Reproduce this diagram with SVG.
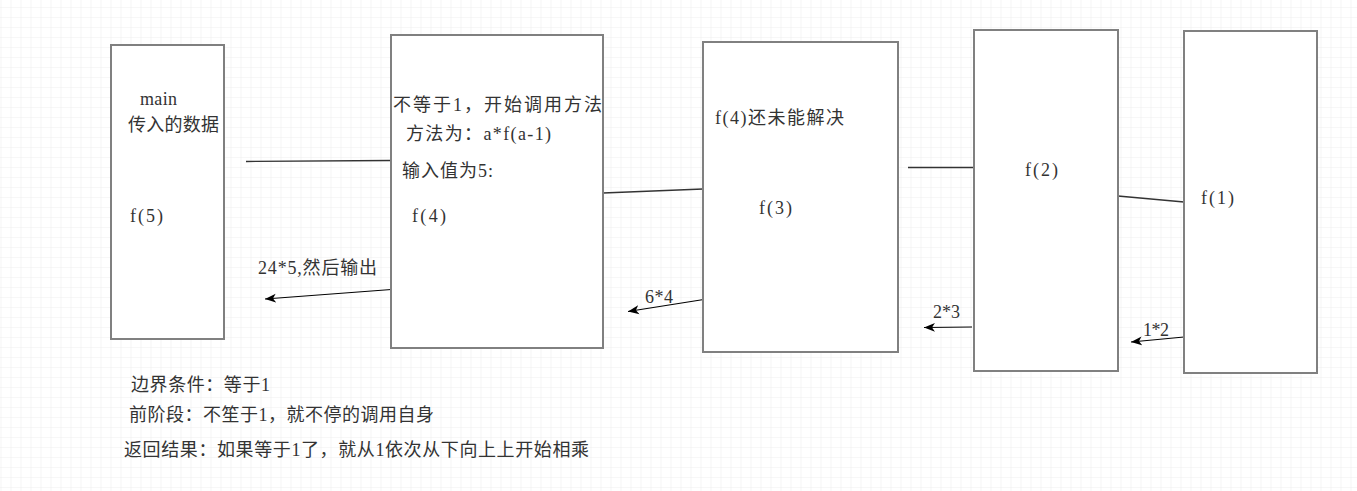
<svg xmlns="http://www.w3.org/2000/svg" width="1357" height="491" viewBox="0 0 1357 491">
  <defs>
    <pattern id="grid" x="0.5" y="7" width="10" height="10" patternUnits="userSpaceOnUse">
      <path d="M0,0 H10 M0,0 V10" fill="none" stroke="#efefef" stroke-width="1.2"/>
    </pattern>
    <marker id="arr" viewBox="0 0 12 10" refX="11" refY="5" markerWidth="12" markerHeight="10" markerUnits="userSpaceOnUse" orient="auto">
      <path d="M0,0.5 L11,5 L0,9.5 L3,5 Z" fill="#000"/>
    </marker>
    <style>
      .box { fill: #ffffff; stroke: #808080; stroke-width: 2; }
      .t { font-family: "Liberation Serif", "Noto Sans CJK SC", serif; font-size: 18px; fill: #333333; }
      .c { font-family: "Noto Sans CJK SC", sans-serif; font-size: 18px; }
      .link { stroke: #333333; stroke-width: 1.3; fill: none; }
      .ret { stroke: #000000; stroke-width: 1.1; fill: none; marker-end: url(#arr); }
    </style>
  </defs>
  <rect width="1357" height="491" fill="#ffffff"/>
  <rect width="1357" height="491" fill="url(#grid)"/>

  <g id="connectors">
    <line class="link" x1="246" y1="161.5" x2="391" y2="160.5"/>
    <line class="link" x1="603" y1="193" x2="703" y2="189"/>
    <line class="link" x1="908" y1="167.5" x2="974" y2="167.5"/>
    <line class="link" x1="1118" y1="196" x2="1184" y2="202"/>
    <line class="ret" x1="398" y1="289" x2="265" y2="299"/>
    <line class="ret" x1="710" y1="298.5" x2="628" y2="311.5"/>
    <line class="ret" x1="972" y1="327" x2="924" y2="327.5"/>
    <line class="ret" x1="1184" y1="337" x2="1131" y2="342"/>
    <text class="t" x="258" y="274" textLength="119" lengthAdjust="spacing">24*5,<tspan class="c">然后输出</tspan></text>
    <text class="t" x="645" y="303" textLength="28" lengthAdjust="spacing">6*4</text>
    <text class="t" x="933" y="318" textLength="27" lengthAdjust="spacing">2*3</text>
    <text class="t" x="1143" y="336" textLength="26" lengthAdjust="spacing">1*2</text>
  </g>

  <g id="node-main">
    <rect class="box" x="111" y="45" width="113" height="294"/>
    <text class="t" x="140" y="105" textLength="37" lengthAdjust="spacing">main</text>
    <text class="t" x="128" y="131" textLength="91" lengthAdjust="spacing"><tspan class="c">传入的数据</tspan></text>
    <text class="t" x="130" y="222" textLength="33" lengthAdjust="spacing">f(5)</text>
  </g>

  <g id="node-f4">
    <rect class="box" x="391" y="35" width="212" height="313"/>
    <text class="t" x="393" y="111" textLength="209" lengthAdjust="spacing"><tspan class="c">不等于</tspan>1<tspan class="c">，开始调用方法</tspan></text>
    <text class="t" x="406" y="140" textLength="145" lengthAdjust="spacing"><tspan class="c">方法为：</tspan>a*f(a-1)</text>
    <text class="t" x="402" y="177" textLength="91" lengthAdjust="spacing"><tspan class="c">输入值为</tspan>5:</text>
    <text class="t" x="412" y="222" textLength="34" lengthAdjust="spacing">f(4)</text>
  </g>

  <g id="node-f3">
    <rect class="box" x="703" y="42" width="195" height="310"/>
    <text class="t" x="715" y="124" textLength="129" lengthAdjust="spacing">f(4)<tspan class="c">还未能解决</tspan></text>
    <text class="t" x="759" y="214" textLength="33" lengthAdjust="spacing">f(3)</text>
  </g>

  <g id="node-f2">
    <rect class="box" x="974" y="30" width="144" height="341"/>
    <text class="t" x="1025" y="176" textLength="33" lengthAdjust="spacing">f(2)</text>
  </g>

  <g id="node-f1">
    <rect class="box" x="1184" y="31" width="133" height="342"/>
    <text class="t" x="1201" y="204" textLength="33" lengthAdjust="spacing">f(1)</text>
  </g>

  <g id="notes">
    <text class="t" x="131" y="391" textLength="139" lengthAdjust="spacing"><tspan class="c">边界条件：等于</tspan>1</text>
    <text class="t" x="129" y="421" textLength="305" lengthAdjust="spacing"><tspan class="c">前阶段：不笙于</tspan>1<tspan class="c">，就不停的调用自身</tspan></text>
    <text class="t" x="124" y="456" textLength="465" lengthAdjust="spacing"><tspan class="c">返回结果：如果等于</tspan>1<tspan class="c">了，就从</tspan>1<tspan class="c">依次从下向上上开始相乘</tspan></text>
  </g>
</svg>
